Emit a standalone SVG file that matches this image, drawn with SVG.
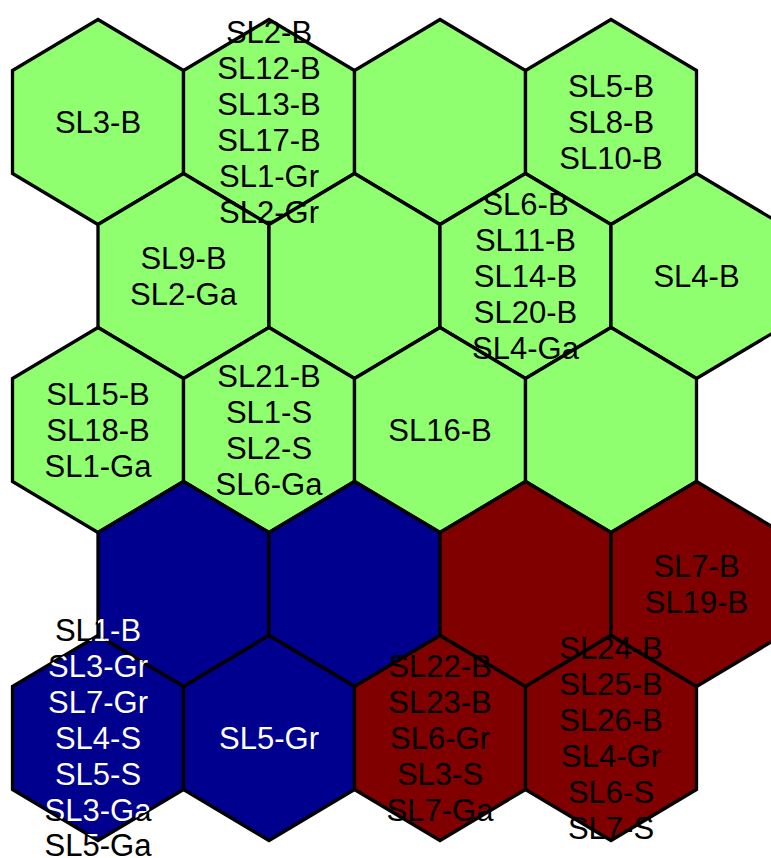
<svg xmlns="http://www.w3.org/2000/svg" width="771" height="858" viewBox="0 0 771 858">
<style>
.hx{stroke:#000;stroke-width:3.3;stroke-linejoin:miter}
.g{fill:#8FFF70}
.b{fill:#00008F}
.r{fill:#800000}
text{font-family:"Liberation Sans",Arial,sans-serif;font-size:31px;text-anchor:middle;fill:#000}
text.w{fill:#fff}
text.inv{fill:url(#inv)}
</style>
<defs>
<polygon id="hex" points="0,-102.5 85.5,-51.5 85.5,51.5 0,102.5 -85.5,51.5 -85.5,-51.5"/>
<pattern id="inv" patternUnits="userSpaceOnUse" x="0" y="0" width="771" height="858">
<rect width="771" height="858" fill="#000"/>
<polygon fill="#fff" points="183.5,481.5 269,532.5 269,635.5 183.5,686.5 98,635.5 98,532.5"/>
<polygon fill="#fff" points="98,635.5 183.5,686.5 183.5,789.5 98,840.5 12.5,789.5 12.5,686.5"/>
<polygon fill="#fff" points="269,635.5 354.5,686.5 354.5,789.5 269,840.5 183.5,789.5 183.5,686.5"/>
</pattern>
</defs>
<rect width="771" height="858" fill="#fff"/>
<g id="cells">
<g id="cell-0-0"><use href="#hex" class="hx g" transform="translate(98,122)"/></g>
<g id="cell-0-1"><use href="#hex" class="hx g" transform="translate(269,122)"/></g>
<g id="cell-0-2"><use href="#hex" class="hx g" transform="translate(440,122)"/></g>
<g id="cell-0-3"><use href="#hex" class="hx g" transform="translate(611,122)"/></g>
<g id="cell-1-0"><use href="#hex" class="hx g" transform="translate(183.5,276)"/></g>
<g id="cell-1-1"><use href="#hex" class="hx g" transform="translate(354.5,276)"/></g>
<g id="cell-1-2"><use href="#hex" class="hx g" transform="translate(525.5,276)"/></g>
<g id="cell-1-3"><use href="#hex" class="hx g" transform="translate(696.5,276)"/></g>
<g id="cell-2-0"><use href="#hex" class="hx g" transform="translate(98,430)"/></g>
<g id="cell-2-1"><use href="#hex" class="hx g" transform="translate(269,430)"/></g>
<g id="cell-2-2"><use href="#hex" class="hx g" transform="translate(440,430)"/></g>
<g id="cell-2-3"><use href="#hex" class="hx g" transform="translate(611,430)"/></g>
<g id="cell-3-0"><use href="#hex" class="hx b" transform="translate(183.5,584)"/></g>
<g id="cell-3-1"><use href="#hex" class="hx b" transform="translate(354.5,584)"/></g>
<g id="cell-3-2"><use href="#hex" class="hx r" transform="translate(525.5,584)"/></g>
<g id="cell-3-3"><use href="#hex" class="hx r" transform="translate(696.5,584)"/></g>
<g id="cell-4-0"><use href="#hex" class="hx b" transform="translate(98,738)"/></g>
<g id="cell-4-1"><use href="#hex" class="hx b" transform="translate(269,738)"/></g>
<g id="cell-4-2"><use href="#hex" class="hx r" transform="translate(440,738)"/></g>
<g id="cell-4-3"><use href="#hex" class="hx r" transform="translate(611,738)"/></g>
</g>
<g id="labels">
<g id="label-0-0"><text x="98" y="133">SL3-B</text></g>
<g id="label-0-1"><text x="269" y="43">SL2-B</text><text x="269" y="79">SL12-B</text><text x="269" y="115">SL13-B</text><text x="269" y="151">SL17-B</text><text x="269" y="187">SL1-Gr</text><text x="269" y="223">SL2-Gr</text></g>
<g id="label-0-3"><text x="611" y="97">SL5-B</text><text x="611" y="133">SL8-B</text><text x="611" y="169">SL10-B</text></g>
<g id="label-1-0"><text x="183.5" y="269">SL9-B</text><text x="183.5" y="305">SL2-Ga</text></g>
<g id="label-1-2"><text x="525.5" y="215">SL6-B</text><text x="525.5" y="251">SL11-B</text><text x="525.5" y="287">SL14-B</text><text x="525.5" y="323">SL20-B</text><text x="525.5" y="359">SL4-Ga</text></g>
<g id="label-1-3"><text x="696.5" y="287">SL4-B</text></g>
<g id="label-2-0"><text x="98" y="405">SL15-B</text><text x="98" y="441">SL18-B</text><text x="98" y="477">SL1-Ga</text></g>
<g id="label-2-1"><text x="269" y="387">SL21-B</text><text x="269" y="423">SL1-S</text><text x="269" y="459">SL2-S</text><text x="269" y="495">SL6-Ga</text></g>
<g id="label-2-2"><text x="440" y="441">SL16-B</text></g>
<g id="label-3-3"><text x="696.5" y="577">SL7-B</text><text x="696.5" y="613">SL19-B</text></g>
<g id="label-4-0"><text class="inv" x="98" y="641">SL1-B</text><text class="inv" x="98" y="677">SL3-Gr</text><text class="inv" x="98" y="713">SL7-Gr</text><text class="inv" x="98" y="749">SL4-S</text><text class="inv" x="98" y="785">SL5-S</text><text class="inv" x="98" y="821">SL3-Ga</text><text class="inv" x="98" y="856">SL5-Ga</text></g>
<g id="label-4-1"><text class="w" x="269" y="749">SL5-Gr</text></g>
<g id="label-4-2"><text x="440" y="677">SL22-B</text><text x="440" y="713">SL23-B</text><text x="440" y="749">SL6-Gr</text><text x="440" y="785">SL3-S</text><text x="440" y="821">SL7-Ga</text></g>
<g id="label-4-3"><text x="611" y="659">SL24-B</text><text x="611" y="695">SL25-B</text><text x="611" y="731">SL26-B</text><text x="611" y="767">SL4-Gr</text><text x="611" y="803">SL6-S</text><text x="611" y="839">SL7-S</text></g>
</g>
</svg>
